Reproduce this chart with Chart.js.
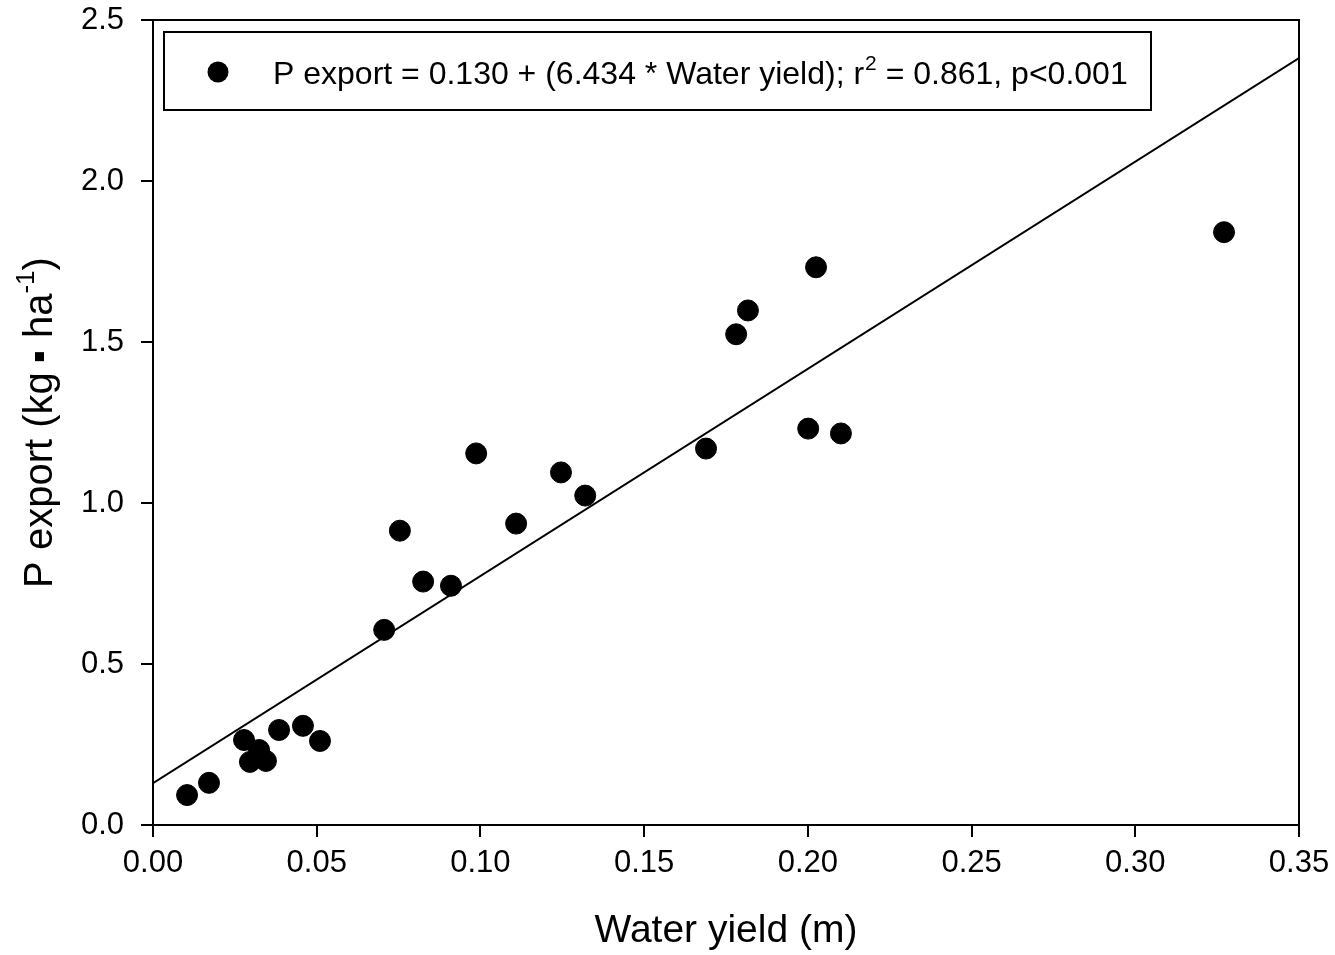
<!DOCTYPE html>
<html>
<head>
<meta charset="utf-8">
<script src="https://cdn.jsdelivr.net/npm/chart.js@4"></script>
<style>
  html, body { margin: 0; padding: 0; background: #fff; }
  canvas { display: block; }
</style>
</head>
<body>
<canvas id="chart" width="1335" height="955"></canvas>
<script>
// data
var waterYield = [0.0104, 0.0171, 0.0278, 0.0296, 0.0324, 0.0345, 0.0385, 0.0458, 0.0510,
  0.0706, 0.0754, 0.0825, 0.0910, 0.0987, 0.1109, 0.1246, 0.1320, 0.1689, 0.1781,
  0.1817, 0.2001, 0.2025, 0.2101, 0.3271];
var pExport = [0.093, 0.131, 0.264, 0.196, 0.233, 0.199, 0.295, 0.308, 0.261,
  0.606, 0.914, 0.756, 0.743, 1.154, 0.936, 1.095, 1.023, 1.169, 1.524,
  1.598, 1.231, 1.732, 1.216, 1.841];

// regression from the legend
var intercept = 0.130;
var slope = 6.434;
var fitX = [0, 0.35];

var FONT = "'Liberation Sans', Arial, sans-serif";

var points = waterYield.map(function (x, i) { return { x: x, y: pExport[i] }; });
var fitLine = fitX.map(function (x) { return { x: x, y: intercept + slope * x }; });

// frame, legend box and y title with superscripts
var extras = {
  id: 'extras',
  afterDraw: function (chart) {
    var ctx = chart.ctx;
    var a = chart.chartArea;
    ctx.save();
    ctx.strokeStyle = '#000';
    ctx.lineWidth = 2;
    ctx.beginPath();
    ctx.moveTo(a.left, a.top);
    ctx.lineTo(a.right, a.top);
    ctx.lineTo(a.right, a.bottom);
    ctx.stroke();

    // legend
    ctx.strokeRect(164, 32, 987, 78);
    ctx.fillStyle = '#000';
    ctx.beginPath();
    ctx.arc(218, 72, 10.5, 0, Math.PI * 2);
    ctx.fill();
    ctx.textBaseline = 'alphabetic';
    ctx.textAlign = 'left';
    var x = 273, base = 84;
    ctx.font = '32px ' + FONT;
    var t1 = 'P export = 0.130 + (6.434 * Water yield); r';
    ctx.fillText(t1, x, base);
    x += ctx.measureText(t1).width;
    ctx.font = '21px ' + FONT;
    ctx.fillText('2', x + 1, base - 14);
    x += ctx.measureText('2').width + 1;
    ctx.font = '32px ' + FONT;
    ctx.fillText(' = 0.861, p<0.001', x, base);

    // y axis title
    ctx.translate(52, (a.top + a.bottom) / 2);
    ctx.rotate(-Math.PI / 2);
    var big = '40px ' + FONT, small = '26px ' + FONT;
    ctx.font = big;
    var p1 = 'P export (kg ', p2 = ' ha', p4 = ')';
    var sq = 9, gap = 3;
    var w1 = ctx.measureText(p1).width, w2 = ctx.measureText(p2).width, w4 = ctx.measureText(p4).width;
    ctx.font = small;
    var w3 = ctx.measureText('-1').width;
    var total = w1 + sq + gap + w2 + w3 + w4;
    var cx = -total / 2;
    ctx.font = big;
    ctx.fillText(p1, cx, 0);
    cx += w1;
    ctx.fillRect(cx, -17, sq, sq);
    cx += sq + gap;
    ctx.fillText(p2, cx, 0);
    cx += w2;
    ctx.font = small;
    ctx.fillText('-1', cx, -18);
    cx += w3;
    ctx.font = big;
    ctx.fillText(p4, cx, 0);
    ctx.restore();
  }
};

new Chart(document.getElementById('chart'), {
  type: 'scatter',
  data: {
    datasets: [
      {
        label: 'data',
        data: points,
        backgroundColor: '#000',
        borderColor: '#000',
        pointRadius: 10.5,
        pointHoverRadius: 10.5
      },
      {
        type: 'line',
        label: 'fit',
        data: fitLine,
        borderColor: '#000',
        borderWidth: 2,
        pointRadius: 0,
        fill: false
      }
    ]
  },
  plugins: [extras],
  options: {
    responsive: false,
    animation: false,
    events: [],
    layout: { padding: { top: 20, right: 36, left: 0, bottom: 0 } },
    plugins: { legend: { display: false }, tooltip: { enabled: false } },
    scales: {
      x: {
        type: 'linear',
        min: 0,
        max: 0.35,
        afterFit: function (s) { s.height = 130; s.paddingLeft = 0; s.paddingRight = 0; },
        border: { display: true, color: '#000', width: 2 },
        grid: { drawOnChartArea: false, color: '#000', lineWidth: 2, tickLength: 12 },
        ticks: {
          stepSize: 0.05,
          color: '#000',
          padding: 8,
          font: { family: FONT, size: 31 },
          callback: function (v) { return v.toFixed(2); }
        },
        title: {
          display: true,
          text: 'Water yield (m)',
          color: '#000',
          font: { family: FONT, size: 39 },
          padding: { top: 14, bottom: 0 }
        }
      },
      y: {
        type: 'linear',
        min: 0,
        max: 2.5,
        afterFit: function (s) { s.width = 153; s.paddingTop = 0; s.paddingBottom = 0; },
        border: { display: true, color: '#000', width: 2 },
        grid: { drawOnChartArea: false, color: '#000', lineWidth: 2, tickLength: 12 },
        ticks: {
          stepSize: 0.5,
          color: '#000',
          padding: 17,
          font: { family: FONT, size: 31 },
          callback: function (v) { return v.toFixed(1); }
        }
      }
    }
  }
});
</script>
</body>
</html>
